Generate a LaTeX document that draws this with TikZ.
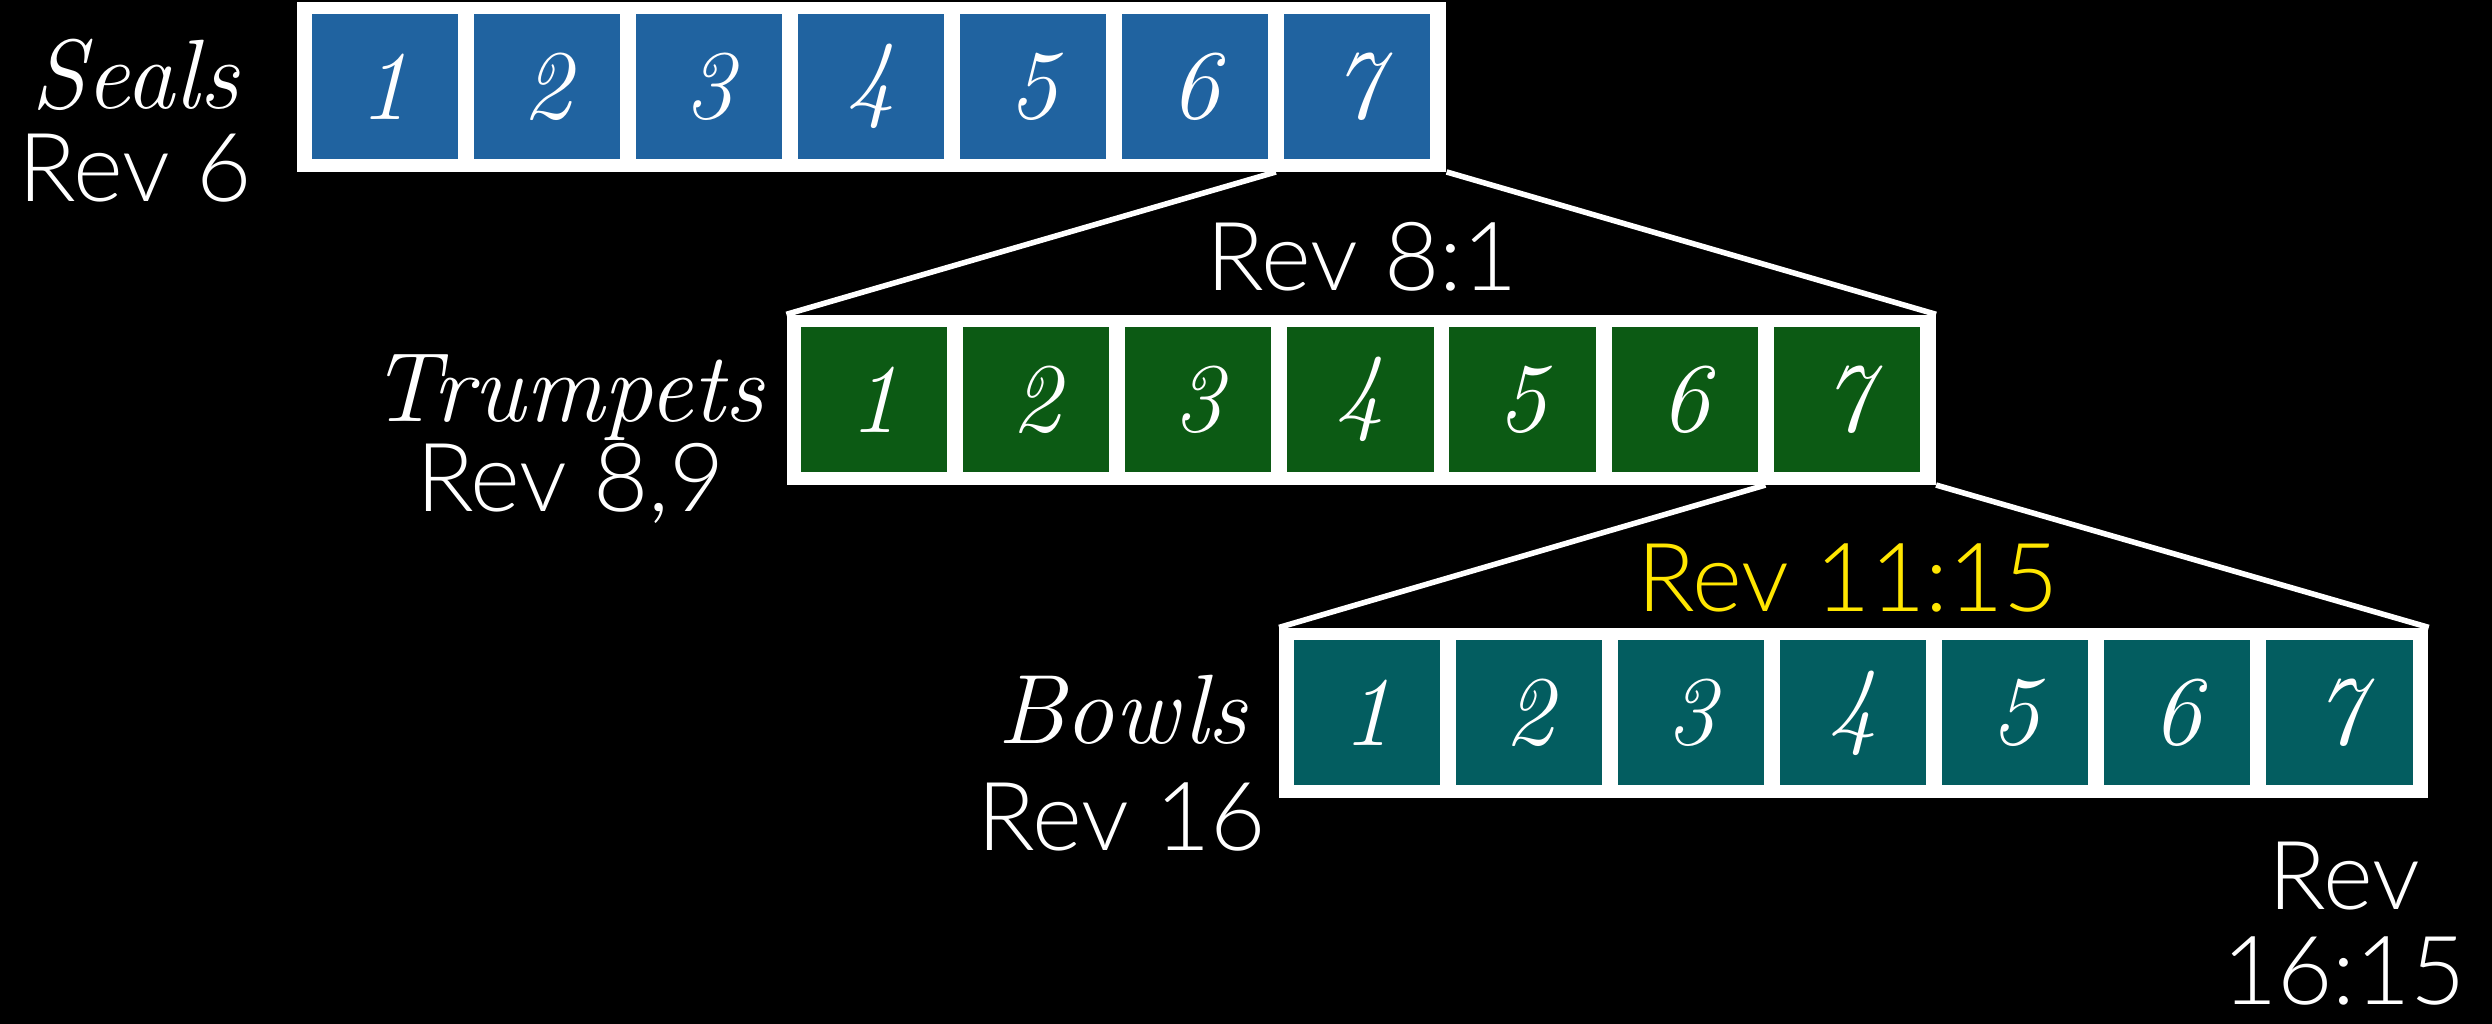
\documentclass[tikz,border=0pt]{standalone}
\usepackage{fontspec}
\newfontfamily\revfont{Lato Light}
\definecolor{sealblue}{RGB}{32,99,160}
\definecolor{trumpgreen}{RGB}{12,90,20}
\definecolor{bowlteal}{RGB}{3,93,96}
\definecolor{revyellow}{RGB}{255,230,0}
\tikzset{
  frame/.style={fill=white,draw=none,minimum width=723pt,minimum height=107pt,inner sep=0pt},
  cellbox/.style={draw=none,minimum width=92pt,minimum height=91pt,inner sep=0pt,text=white,
     font=\fontsize{62}{62}\selectfont\itshape},
  revlabel/.style={text=white,inner sep=0pt,anchor=base,font=\revfont\fontsize{60}{62}\selectfont},
  scriptlabel/.style={text=white,inner sep=0pt,anchor=base,font=\fontsize{62}{62}\selectfont\itshape},
  zoomline/.style={draw=white,line width=3.5pt}
}
\newcommand\rowofseven[4]{%
  \node[frame] (#1) at (#2+361.5,-#3-53.5) {};
  \foreach \i in {1,...,7} {
    \node[cellbox,fill=#4] (#1\i) at (#2+55+\i*102-102,-#3-53.5) {\i};
  }
}
\begin{document}
\begin{tikzpicture}[x=1pt,y=1pt]
  \fill[black] (0,0) rectangle (1568,-644);
  \useasboundingbox (0,0) rectangle (1568,-644);
  \rowofseven{S}{187}{1}{sealblue}
  \rowofseven{T}{495}{198}{trumpgreen}
  \rowofseven{B}{805}{395}{bowlteal}
  % connectors
  \draw[zoomline] ([xshift=-5pt]S7.west |- S.south) -- (T.north west);
  \draw[zoomline] (S.south east) -- (T.north east);
  \draw[zoomline] ([xshift=-5pt]T7.west |- T.south) -- (B.north west);
  \draw[zoomline] (T.south east) -- (B.north east);
  % labels
  \node[scriptlabel] (sealsl) at (85,-68) {Seals};
  \node[revlabel] (sealsr) at (85,-127) {Rev 6};
  \node[scriptlabel] (trumpl) at (357,-265) {Trumpets};
  \node[revlabel] (trumpr) at (359,-322) {Rev 8,9};
  \node[scriptlabel] (bowll) at (706,-468) {Bowls};
  \node[revlabel] (bowlr) at (706,-535) {Rev 16};
  \node[revlabel] (r81) at (857,-183) {Rev 8:1};
  \node[revlabel,text=revyellow] (r1115) at (1163,-385) {Rev 11:15};
  \node[revlabel] (r16a) at (1475,-572) {Rev};
  \node[revlabel] (r16b) at (1475,-632) {16:15};
\end{tikzpicture}
\end{document}
